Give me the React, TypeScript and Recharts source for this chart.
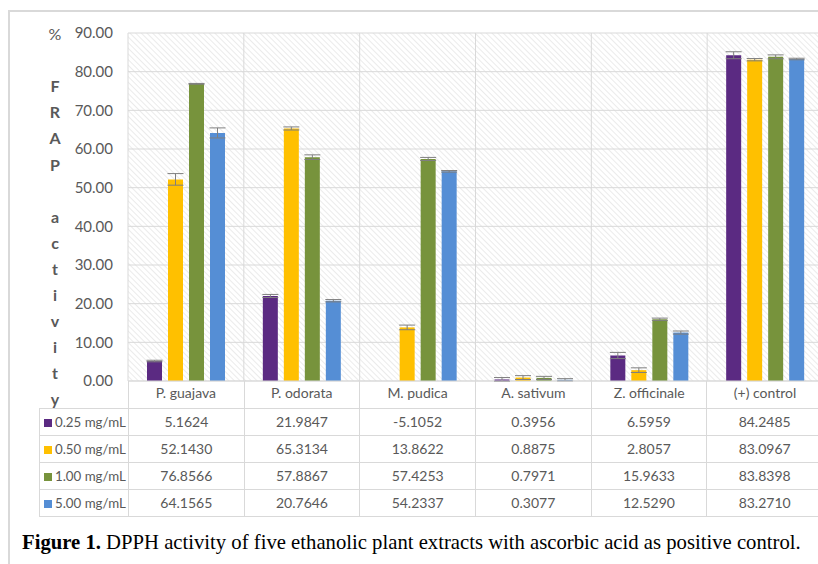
import { BarChart, Bar, XAxis, YAxis, CartesianGrid, ErrorBar } from 'recharts';

const categories = ['P. guajava', 'P. odorata', 'M. pudica', 'A. sativum', 'Z. officinale', '(+) control'];
const seriesNames = ['0.25 mg/mL', '0.50 mg/mL', '1.00 mg/mL', '5.00 mg/mL'];
const conc025 = [5.1624, 21.9847, -5.1052, 0.3956, 6.5959, 84.2485];
const conc050 = [52.143, 65.3134, 13.8622, 0.8875, 2.8057, 83.0967];
const conc100 = [76.8566, 57.8867, 57.4253, 0.7971, 15.9633, 83.8398];
const conc500 = [64.1565, 20.7646, 54.2337, 0.3077, 12.529, 83.271];
// error bars (the negative bar's one is hidden below the axis)
const err025 = [0.2, 0.4, null, 0.5, 0.8, 0.9];
const err050 = [1.5, 0.4, 0.6, 0.5, 0.6, 0.3];
const err100 = [0.1, 0.6, 0.4, 0.4, 0.3, 0.5];
const err500 = [1.3, 0.3, 0.2, 0.3, 0.4, 0.2];
const yTicks = [0, 10, 20, 30, 40, 50, 60, 70, 80, 90];
const axisTitle = ['%', '', 'F', 'R', 'A', 'P', '', 'a', 'c', 't', 'i', 'v', 'i', 't', 'y'];

const COLORS = ['#5B2A82', '#FFC000', '#77933C', '#558ED5'];
const values = [conc025, conc050, conc100, conc500];
const errors = [err025, err050, err100, err500];

const data = categories.map((name, i) => {
  const row: Record<string, string | number | null> = { name };
  seriesNames.forEach((s, k) => {
    row['v' + k] = values[k][i];
    row['e' + k] = errors[k][i];
  });
  return row;
});

const FONT = 'Lato, "Noto Sans", sans-serif';
const GRID = '#d9d9d9';
const TEXT = '#595959';

export default function App() {
  const cellBorder = `1px solid ${GRID}`;
  return (
    <div style={{ position: 'absolute', left: 0, top: 0, width: 818, height: 564, overflow: 'hidden', background: '#fff' }}>
      <div style={{ position: 'absolute', left: 8, top: 10, width: 900, height: 700, borderLeft: `2px solid ${GRID}`, borderTop: `2px solid ${GRID}` }} />

      {/* data table under the axis */}
      <table style={{ position: 'absolute', left: 39, top: 381, borderCollapse: 'collapse', tableLayout: 'fixed', width: 784, fontFamily: FONT, fontSize: 14, color: TEXT }}>
        <colgroup>
          <col style={{ width: 89 }} />
          {categories.map((c) => <col key={c} />)}
        </colgroup>
        <tbody>
          <tr style={{ height: 27 }}>
            <td style={{ borderBottom: cellBorder, borderRight: cellBorder }} />
            {categories.map((c) => (
              <td key={c} style={{ borderLeft: cellBorder, borderRight: cellBorder, borderBottom: cellBorder }} />
            ))}
          </tr>
          {seriesNames.map((s, k) => (
            <tr key={s} style={{ height: 27 }}>
              <td style={{ border: cellBorder, padding: '0 0 0 4px', whiteSpace: 'nowrap', fontSize: 13.3 }}>
                <span style={{ display: 'inline-block', width: 8, height: 8, background: COLORS[k], marginRight: 3 }} />
                {s}
              </td>
              {values[k].map((v, i) => (
                <td key={i} style={{ border: cellBorder, textAlign: 'center', padding: 0 }}>{v.toFixed(4)}</td>
              ))}
            </tr>
          ))}
        </tbody>
      </table>

      <div style={{ position: 'absolute', left: 0, top: 0 }}>
        <BarChart width={830} height={420} data={data} margin={{ top: 33, right: 7, left: 0, bottom: 12 }} barSize={15} barGap={6}>
          <defs>
            <pattern id="hatch" width="4" height="4" patternUnits="userSpaceOnUse" patternTransform="rotate(-45)">
              <rect width="4" height="4" fill="#ffffff" />
              <line x1="0" y1="0" x2="0" y2="4" stroke="#dcdcdc" strokeWidth="1.1" />
            </pattern>
          </defs>
          <CartesianGrid
            stroke={GRID}
            fill="url(#hatch)"
            verticalCoordinatesGenerator={({ offset }: any) =>
              categories.map((_, i) => offset.left + (i * offset.width) / categories.length).concat(offset.left + offset.width)
            }
          />
          <XAxis
            dataKey="name"
            height={27}
            axisLine={{ stroke: GRID }}
            tickLine={false}
            tickSize={0}
            tickMargin={7}
            tick={{ fill: TEXT, fontSize: 14, fontFamily: FONT }}
          />
          <YAxis
            width={128}
            domain={[0, 90]}
            ticks={yTicks}
            allowDataOverflow
            axisLine={false}
            tickLine={false}
            tickSize={0}
            tickMargin={15}
            tickFormatter={(v: number) => v.toFixed(2)}
            tick={{ fill: TEXT, fontSize: 15, fontFamily: FONT }}
          />
          {seriesNames.map((s, k) => (
            <Bar key={s} dataKey={'v' + k} name={s} fill={COLORS[k]} isAnimationActive={false}>
              <ErrorBar dataKey={'e' + k} width={8} stroke="#7f7f7f" strokeWidth={1} />
            </Bar>
          ))}
        </BarChart>
      </div>

      {axisTitle.map((ch, i) => (
        <div key={i} style={{ position: 'absolute', left: 45, width: 20, top: 24 + i * 26.1, textAlign: 'center', fontFamily: FONT, fontSize: 16, fontWeight: ch === '%' ? 400 : 700, color: TEXT, lineHeight: '19px' }}>
          {ch}
        </div>
      ))}

      <div style={{ position: 'absolute', left: 22, top: 531, fontFamily: '"Liberation Serif", "Times New Roman", serif', fontSize: 20.7, color: '#000', whiteSpace: 'nowrap' }}>
        <b>Figure 1.</b> DPPH activity of five ethanolic plant extracts with ascorbic acid as positive control.
      </div>
    </div>
  );
}
